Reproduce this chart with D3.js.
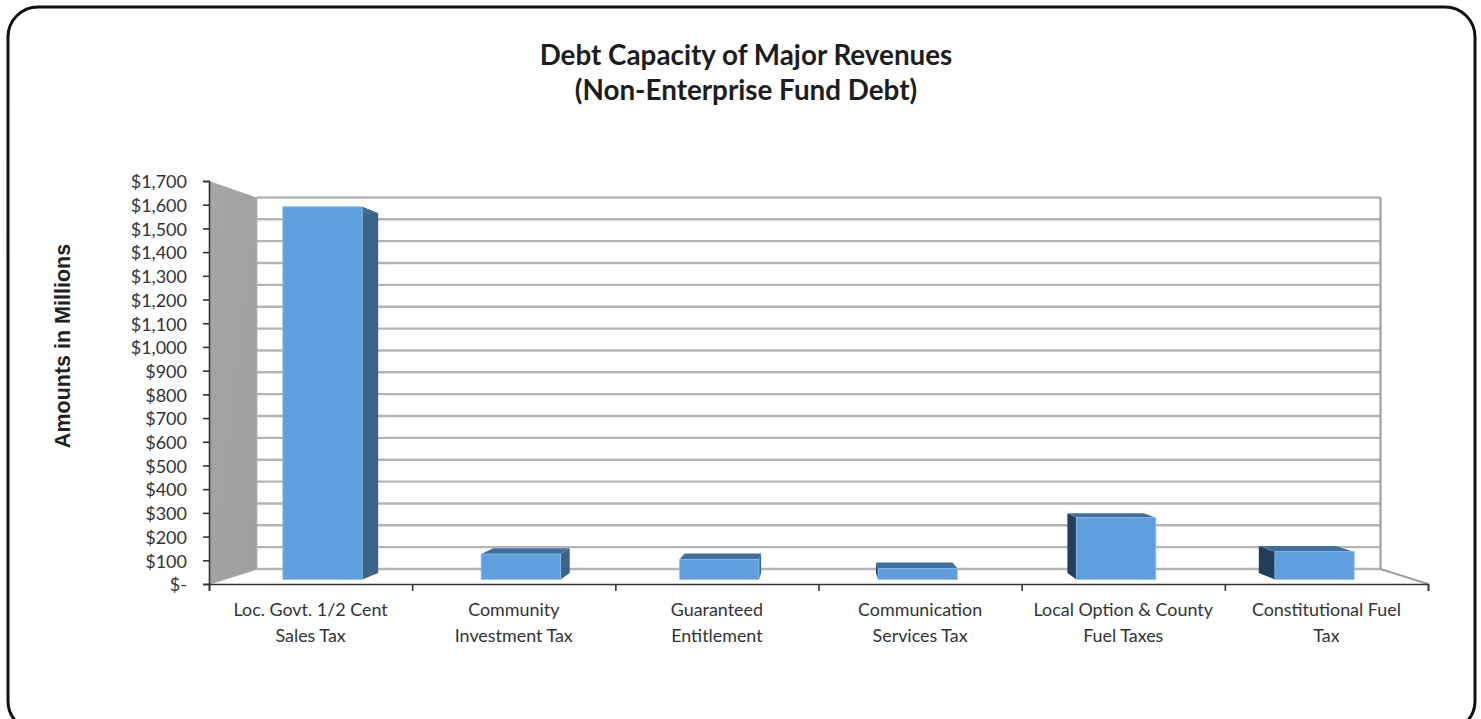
<!DOCTYPE html>
<html lang="en">
  <head>
    <meta charset="utf-8">
    <title>Debt Capacity of Major Revenues</title>
    <script type="text/javascript" src="https://cdnjs.cloudflare.com/ajax/libs/d3/7.8.5/d3.min.js"></script>
    <style>
      html, body { margin: 0; padding: 0; background: #fff; overflow: hidden; }
      svg { display: block; }
      .axisY text { font-family: Lato, "Open Sans", sans-serif; font-size: 18px; fill: #333; }
      .catLabel { font-family: Lato, "Open Sans", sans-serif; font-size: 17.9px; fill: #333; }
      .title { font-family: Lato, "Open Sans", sans-serif; font-size: 27.8px; font-weight: 700; fill: #1d1d1d; text-anchor: middle; }
      .axisTitle { font-family: "Liberation Sans", Arial, sans-serif; font-size: 21.5px; font-weight: 700; fill: #222; text-anchor: middle; }
    </style>
  </head>
  <body>
    <div id="chartDiv"></div>
    <script>
      var categories = [
        "Loc. Govt. 1/2 Cent\nSales Tax",
        "Community\nInvestment Tax",
        "Guaranteed\nEntitlement",
        "Communication\nServices Tax",
        "Local Option & County\nFuel Taxes",
        "Constitutional Fuel\nTax"
      ];
      var values = [1610, 110, 87, 47, 267, 120];
      var yTicks = [0, 100, 200, 300, 400, 500, 600, 700, 800, 900, 1000, 1100, 1200, 1300, 1400, 1500, 1600, 1700];
      var titleLines = ["Debt Capacity of Major Revenues", "(Non-Enterprise Fund Debt)"];
      var yTitle = "Amounts in Millions";

      var chartWd = 1481, chartHt = 719;

      // front plane of the 3d box, the back wall is this plane pulled towards the vanishing point
      var x0 = 209, x1 = 1428, yBase = 584, yTop = 181;
      var vpX = 819, vpY = 392, backScale = 0.922;
      var barFront = 0.3, barBack = 0.74;

      var xScale = d3.scaleBand()
                     .domain(categories)
                     .range([x0, x1])
                     .paddingInner(0.6)
                     .paddingOuter(0.3);

      var xTickScale = d3.scaleLinear().domain([0, categories.length]).range([x0, x1]);
      var yScale = d3.scaleLinear().domain([0, 1700]).range([yBase, yTop]);

      // px = position on front plane, depth 0 = front, 1 = back wall
      var project = function(px, py, depth) {
        var s = 1 - (1 - backScale) * depth;
        return [vpX + (px - vpX) * s, vpY + (py - vpY) * s];
      };
      var poly = function(pts) {
        return pts.map(function(p) { return p[0].toFixed(1) + "," + p[1].toFixed(1); }).join(" ");
      };

      var svg = d3.select("#chartDiv")
                  .append("svg")
                  .attr("width", chartWd)
                  .attr("height", chartHt);

      var defs = svg.append("defs");
      var wallGrad = defs.append("linearGradient").attr("id", "wallGrad").attr("x1", 0).attr("x2", 1).attr("y1", 0).attr("y2", 1);
      wallGrad.append("stop").attr("offset", "0%").attr("stop-color", "#a6a6a6");
      wallGrad.append("stop").attr("offset", "100%").attr("stop-color", "#9f9f9f");

      // outer frame
      svg.append("rect")
         .attr("x", 8).attr("y", 7)
         .attr("width", 1467).attr("height", 724)
         .attr("rx", 30).attr("ry", 30)
         .attr("fill", "#fff")
         .attr("stroke", "#111")
         .attr("stroke-width", 3);

      // titles
      svg.selectAll("text.title")
         .data(titleLines)
         .enter()
         .append("text")
         .attr("class", "title")
         .attr("x", 746)
         .attr("y", function(d, i) { return 65 + i * 35; })
         .text(function(d) { return d; });

      svg.append("text")
         .attr("class", "axisTitle")
         .attr("transform", "translate(70,346) rotate(-90)")
         .text(yTitle);

      // left wall
      svg.append("polygon")
         .attr("points", poly([project(x0, yBase, 0), project(x0, yTop, 0), project(x0, yTop, 1), project(x0, yBase, 1)]))
         .attr("fill", "url(#wallGrad)");

      // gridlines on the back wall
      svg.selectAll("line.grid")
         .data(yTicks)
         .enter()
         .append("line")
         .attr("class", "grid")
         .attr("x1", project(x0, 0, 1)[0])
         .attr("x2", project(x1, 0, 1)[0])
         .attr("y1", function(d) { return project(x0, yScale(d), 1)[1]; })
         .attr("y2", function(d) { return project(x0, yScale(d), 1)[1]; })
         .attr("stroke", "#b4b4b4")
         .attr("stroke-width", 2.4);

      // back wall right edge and floor edges
      svg.append("polyline")
         .attr("points", poly([project(x1, yTop, 1), project(x1, yBase, 1), project(x1, yBase, 0)]))
         .attr("fill", "none")
         .attr("stroke", "#a0a0a0")
         .attr("stroke-width", 2.2);
      svg.append("polyline")
         .attr("points", poly([project(x0, yBase, 0), project(x0, yBase, 1), project(x0, yTop, 1)]))
         .attr("fill", "none")
         .attr("stroke", "#a8a8a8")
         .attr("stroke-width", 1.6);

      // bars: side face, top face, then front
      var bars = svg.selectAll("g.bar")
                    .data(categories.map(function(c, i) { return {cat: c, value: values[i]}; }))
                    .enter()
                    .append("g")
                    .attr("class", "bar");

      bars.append("polygon")
          .attr("points", function(d) {
            var l = xScale(d.cat), r = l + xScale.bandwidth();
            var sx = (l + r) / 2 < vpX - 60 ? r : l;
            return poly([project(sx, yBase, barFront), project(sx, yScale(d.value), barFront),
                         project(sx, yScale(d.value), barBack), project(sx, yBase, barBack)]);
          })
          .attr("fill", function(d) {
            var l = xScale(d.cat);
            return (l + xScale.bandwidth() / 2) < vpX - 60 ? "#3a6488" : "#223f58";
          });

      bars.append("polygon")
          .attr("points", function(d) {
            var l = xScale(d.cat), r = l + xScale.bandwidth(), t = yScale(d.value);
            return poly([project(l, t, barFront), project(r, t, barFront), project(r, t, barBack), project(l, t, barBack)]);
          })
          .attr("fill", "#3f709c");

      bars.append("polygon")
          .attr("points", function(d) {
            var l = xScale(d.cat), r = l + xScale.bandwidth(), t = yScale(d.value);
            return poly([project(l, yBase, barFront), project(l, t, barFront), project(r, t, barFront), project(r, yBase, barFront)]);
          })
          .attr("fill", "#5f9fdd")
          .attr("stroke", "#8cc0ee")
          .attr("stroke-width", 0.8);

      // axes
      var yAxis = d3.axisLeft(yScale)
                    .tickValues(yTicks)
                    .tickSize(6)
                    .tickPadding(16)
                    .tickFormat(function(d) { return d === 0 ? "$-" : "$" + d3.format(",")(d); });

      var xAxis = d3.axisBottom(xTickScale)
                    .tickValues(d3.range(categories.length + 1))
                    .tickSize(7)
                    .tickFormat("");

      var gy = svg.append("g")
                  .attr("class", "axisY")
                  .attr("transform", "translate(" + x0 + ",0)")
                  .call(yAxis);
      gy.selectAll("path, line").attr("stroke", "#333").attr("stroke-width", 1.6);
      gy.selectAll("text").attr("y", 1);

      var gx = svg.append("g")
                  .attr("class", "axisX")
                  .attr("transform", "translate(0," + yBase + ")")
                  .call(xAxis);
      gx.selectAll("path, line").attr("stroke", "#333").attr("stroke-width", 1.6);

      // category labels, two lines each
      var labels = svg.selectAll("text.catLabel")
                      .data(categories)
                      .enter()
                      .append("text")
                      .attr("class", "catLabel")
                      .attr("text-anchor", "middle");

      labels.selectAll("tspan")
            .data(function(d) {
              return d.split("\n").map(function(t) { return {cat: d, text: t}; });
            })
            .enter()
            .append("tspan")
            .attr("x", function(d) { return xScale(d.cat) + xScale.bandwidth() / 2; })
            .attr("y", function(d, i) { return 616 + i * 25.5; })
            .text(function(d) { return d.text; });
    </script>
  </body>
</html>
